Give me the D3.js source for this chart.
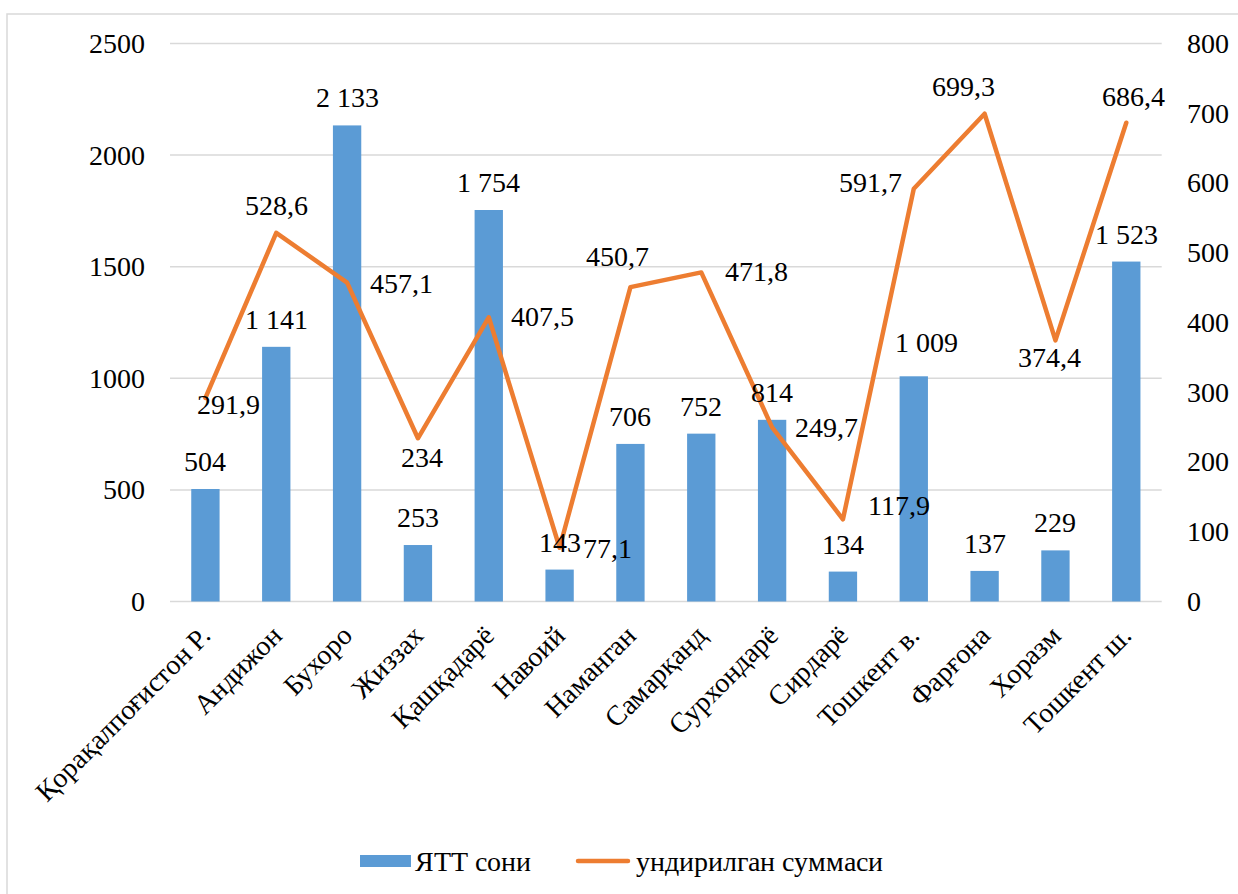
<!DOCTYPE html>
<html>
<head>
<meta charset="utf-8">
<script src="https://cdn.jsdelivr.net/npm/d3@7"></script>
<style>
  @font-face {
    font-family: "ChartSerif";
    src: local("Liberation Serif"), local("LiberationSerif"), local("Liberation Serif Regular"), local("LiberationSerif-Regular");
  }
</style>
</head>
<body style="margin:0;background:#fff">
<svg id="chart" width="1238" height="894"></svg>
<script>
// chart data
const regions = ["Қорақалпоғистон Р.", "Андижон", "Бухоро", "Жиззах", "Қашқадарё", "Навоий",
	"Наманган", "Самарқанд", "Сурхондарё", "Сирдарё", "Тошкент в.", "Фарғона", "Хоразм", "Тошкент ш."];
const yttCount = [504, 1141, 2133, 253, 1754, 143, 706, 752, 814, 134, 1009, 137, 229, 1523];
const collected = [291.9, 528.6, 457.1, 234, 407.5, 77.1, 450.7, 471.8, 249.7, 117.9, 591.7, 699.3, 374.4, 686.4];
const leftTicks = [0, 500, 1000, 1500, 2000, 2500];
const rightTicks = [0, 100, 200, 300, 400, 500, 600, 700, 800];
const seriesNames = ["ЯТТ сони", "ундирилган суммаси"];

// label nudges (px) as placed in the original
const barLabelShift = regions.map(() => [0, -18]);
barLabelShift[10] = [13, -24];
const lineLabelShift = [[23, 16], [0, -18], [54, 10], [4, 29], [54, 9], [48, 10], [-13, -21],
	[55, 9], [54, 10], [56, -4], [-43, 3], [-21, -18], [-6, 27], [7, -17]];

const blue = "#5B9BD5", orange = "#ED7D31", grid = "#D9D9D9";
const serif = '"ChartSerif", "Liberation Serif", "Times New Roman", serif';
const fmtBar = d => d3.format(",")(d).replace(/,/g, " ");
const fmtLine = d => String(d).replace(".", ",");

// every text gets the same look
function txt(sel) {
	return sel.style("font-family", serif).style("font-size", "28px").style("fill", "#000");
}

const svg = d3.select("#chart");
const plotL = 170, plotR = 1161.7, plotT = 43.5, plotB = 601.5;

svg.append("rect")
	.attr("x", 7).attr("y", 14)
	.attr("width", 1260).attr("height", 900)
	.attr("fill", "#fff")
	.attr("stroke", grid).attr("stroke-width", 1.5);

const x = d3.scaleBand().domain(regions).range([plotL, plotR]).paddingInner(0.6).paddingOuter(0.3);
const xc = d => x(d) + x.bandwidth() / 2;
const yL = d3.scaleLinear().domain([0, 2500]).range([plotB, plotT]);
const yR = d3.scaleLinear().domain([0, 800]).range([plotB, plotT]);

// grid lines
svg.append("g")
	.selectAll("line").data(leftTicks).join("line")
	.attr("x1", plotL).attr("x2", plotR)
	.attr("y1", d => yL(d)).attr("y2", d => yL(d))
	.attr("stroke", grid).attr("stroke-width", 1.5);

// axes (labels only)
const axL = svg.append("g").attr("transform", `translate(${plotL},0)`)
	.call(d3.axisLeft(yL).tickValues(leftTicks).tickFormat(d3.format("d")).tickSize(0).tickPadding(25));
const axR = svg.append("g").attr("transform", `translate(${plotR},0)`)
	.call(d3.axisRight(yR).tickValues(rightTicks).tickFormat(d3.format("d")).tickSize(0).tickPadding(25));
[axL, axR].forEach(a => {
	a.attr("font-family", null).attr("font-size", null);
	a.select(".domain").remove();
	txt(a.selectAll("text"));
});

// bars
svg.append("g").selectAll("rect").data(yttCount).join("rect")
	.attr("x", (d, i) => x(regions[i]))
	.attr("y", d => yL(d))
	.attr("width", x.bandwidth())
	.attr("height", d => yL(0) - yL(d))
	.attr("fill", blue);

// line
const line = d3.line().x((d, i) => xc(regions[i])).y(d => yR(d));
svg.append("path")
	.datum(collected)
	.attr("d", line)
	.attr("fill", "none")
	.attr("stroke", orange)
	.attr("stroke-width", 4.5)
	.attr("stroke-linejoin", "round")
	.attr("stroke-linecap", "round");

// bar value labels
txt(svg.append("g").selectAll("text").data(yttCount).join("text")
	.attr("x", (d, i) => xc(regions[i]) + barLabelShift[i][0])
	.attr("y", (d, i) => yL(d) + barLabelShift[i][1])
	.attr("text-anchor", "middle")
	.text(fmtBar));

// line value labels
txt(svg.append("g").selectAll("text").data(collected).join("text")
	.attr("x", (d, i) => xc(regions[i]) + lineLabelShift[i][0])
	.attr("y", (d, i) => yR(d) + lineLabelShift[i][1])
	.attr("text-anchor", "middle")
	.text(fmtLine));

// category labels
txt(svg.append("g").selectAll("text").data(regions).join("text")
	.attr("transform", d => `translate(${xc(d) + 7},${plotB + 36}) rotate(-45)`)
	.attr("text-anchor", "end")
	.text(d => d));

// legend
const lg = svg.append("g");
lg.append("rect").attr("x", 360).attr("y", 855).attr("width", 51).attr("height", 12).attr("fill", blue);
txt(lg.append("text").attr("x", 415).attr("y", 871).text(seriesNames[0]));
lg.append("line").attr("x1", 578).attr("x2", 628).attr("y1", 861).attr("y2", 861)
	.attr("stroke", orange).attr("stroke-width", 4.5).attr("stroke-linecap", "round");
txt(lg.append("text").attr("x", 636).attr("y", 871).text(seriesNames[1]));
</script>
</body>
</html>
